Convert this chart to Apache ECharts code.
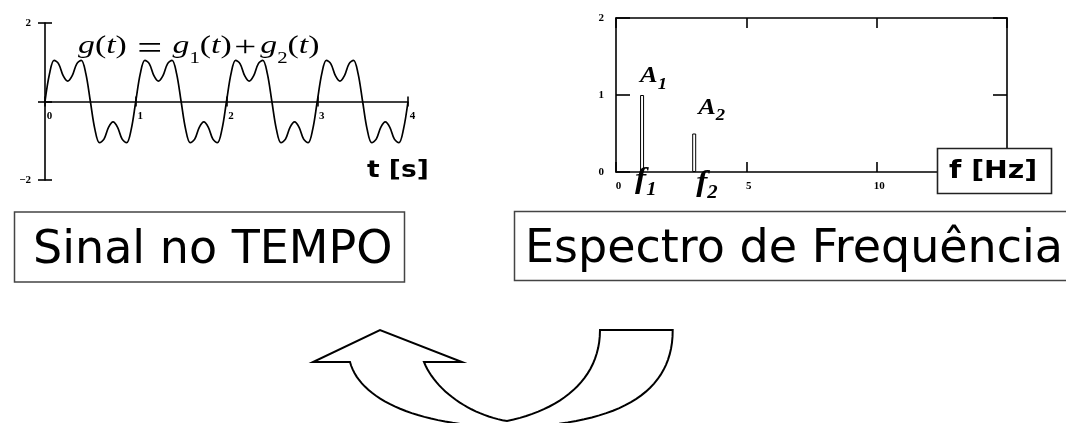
<!DOCTYPE html>
<html>
<head>
<meta charset="utf-8">
<script src="https://cdn.jsdelivr.net/npm/echarts@6/dist/echarts.min.js"></script>
<style>
  html, body { margin: 0; padding: 0; background: #fff; }
  #chart { width: 1066px; height: 423px; }
</style>
</head>
<body>
<div id="chart"></div>
<script>
// g(t) = g1(t) + g2(t), sampled every 0.05 s
const sampleTimes = [
  0, 0.05, 0.1, 0.15, 0.2, 0.25, 0.3, 0.35, 0.4, 0.45,
  0.5, 0.55, 0.6, 0.65, 0.7, 0.75, 0.8, 0.85, 0.9, 0.95,
  1, 1.05, 1.1, 1.15, 1.2, 1.25, 1.3, 1.35, 1.4, 1.45,
  1.5, 1.55, 1.6, 1.65, 1.7, 1.75, 1.8, 1.85, 1.9, 1.95,
  2, 2.05, 2.1, 2.15, 2.2, 2.25, 2.3, 2.35, 2.4, 2.45,
  2.5, 2.55, 2.6, 2.65, 2.7, 2.75, 2.8, 2.85, 2.9, 2.95,
  3, 3.05, 3.1, 3.15, 3.2, 3.25, 3.3, 3.35, 3.4, 3.45,
  3.5, 3.55, 3.6, 3.65, 3.7, 3.75, 3.8, 3.85, 3.9, 3.95,
  4
];
const signalValues = [
  0, 0.71, 1.05, 0.96, 0.66, 0.52, 0.66, 0.96, 1.05, 0.71,
  0, -0.71, -1.05, -0.96, -0.66, -0.52, -0.66, -0.96, -1.05, -0.71,
  0, 0.71, 1.05, 0.96, 0.66, 0.52, 0.66, 0.96, 1.05, 0.71,
  0, -0.71, -1.05, -0.96, -0.66, -0.52, -0.66, -0.96, -1.05, -0.71,
  0, 0.71, 1.05, 0.96, 0.66, 0.52, 0.66, 0.96, 1.05, 0.71,
  0, -0.71, -1.05, -0.96, -0.66, -0.52, -0.66, -0.96, -1.05, -0.71,
  0, 0.71, 1.05, 0.96, 0.66, 0.52, 0.66, 0.96, 1.05, 0.71,
  0, -0.71, -1.05, -0.96, -0.66, -0.52, -0.66, -0.96, -1.05, -0.71,
  0
];

// spectrum: one line per component
const componentIndex = ['1', '2'];
const frequencies = [1, 3];
const amplitudes = [1, 0.5];

// captions
const timeAxisName = 't [s]';
const freqAxisName = 'f [Hz]';
const timeCaption = 'Sinal no TEMPO';
const freqCaption = 'Espectro de Frequência';

const SERIF = '"Liberation Serif", "DejaVu Serif", serif';
const SANS = '"DejaVu Sans", Verdana, sans-serif';
const INK = '#000';

const tickFont = { fontFamily: SERIF, fontWeight: 'bold', fontSize: 11, color: INK };
const axisLineStyle = { color: INK, width: 1.6 };
const noSplit = { show: false };

const chart = echarts.init(document.getElementById('chart'), null, { renderer: 'canvas' });

chart.setOption({
  backgroundColor: '#fff',
  animation: false,
  grid: [
    // time plot area (-2 .. 2)
    { left: 45, right: 658, top: 23, bottom: 243 },
    // upper half of the time plot: its bottom edge is the t axis at g = 0
    { left: 45, right: 658, top: 23, bottom: 321.5 },
    // spectrum frame
    { left: 616, right: 59, top: 18, bottom: 251 }
  ],
  xAxis: [
    { type: 'value', gridIndex: 0, min: 0, max: 4, interval: 1, show: false, splitLine: noSplit },
    {
      type: 'value', gridIndex: 1, min: 0, max: 4, interval: 1, position: 'bottom',
      axisLine: { onZero: false, lineStyle: axisLineStyle },
      axisTick: { length: 5, lineStyle: axisLineStyle },
      axisLabel: Object.assign({ margin: 9, padding: [0, 0, 0, 9] }, tickFont),
      splitLine: noSplit
    },
    {
      type: 'value', gridIndex: 1, min: 0, max: 4, interval: 1, position: 'bottom',
      axisLine: { show: false, onZero: false },
      axisTick: { inside: true, length: 5, lineStyle: axisLineStyle },
      axisLabel: { show: false },
      splitLine: noSplit
    },
    {
      type: 'value', gridIndex: 2, min: 0, max: 15, interval: 5, position: 'bottom',
      axisLine: { onZero: false, lineStyle: axisLineStyle },
      axisTick: { inside: true, length: 10, lineStyle: axisLineStyle },
      axisLabel: Object.assign({ margin: 9, padding: [0, 0, 0, 5] }, tickFont),
      splitLine: noSplit
    },
    {
      type: 'value', gridIndex: 2, min: 0, max: 15, interval: 5, position: 'top',
      axisLine: { onZero: false, lineStyle: axisLineStyle },
      axisTick: { inside: true, length: 10, lineStyle: axisLineStyle },
      axisLabel: { show: false },
      splitLine: noSplit
    }
  ],
  yAxis: [
    {
      type: 'value', gridIndex: 0, min: -2, max: 2, interval: 2, position: 'left',
      axisLine: { onZero: false, lineStyle: axisLineStyle },
      axisTick: { length: 7, lineStyle: axisLineStyle },
      axisLabel: Object.assign({
        margin: 14, padding: [5, 0, 0, 0],
        formatter: v => v === 0 ? '' : (v < 0 ? '\u2212' + (-v) : String(v))
      }, tickFont),
      splitLine: noSplit
    },
    {
      type: 'value', gridIndex: 0, min: -2, max: 2, interval: 2, position: 'left',
      axisLine: { show: false, onZero: false },
      axisTick: { inside: true, length: 7, lineStyle: axisLineStyle },
      axisLabel: { show: false },
      splitLine: noSplit
    },
    { type: 'value', gridIndex: 1, min: 0, max: 2, show: false, splitLine: noSplit },
    {
      type: 'value', gridIndex: 2, min: 0, max: 2, interval: 1, position: 'left',
      axisLine: { onZero: false, lineStyle: axisLineStyle },
      axisTick: { inside: true, length: 14, lineStyle: axisLineStyle },
      axisLabel: Object.assign({ margin: 12, padding: [6, 0, 0, 0] }, tickFont),
      splitLine: noSplit
    },
    {
      type: 'value', gridIndex: 2, min: 0, max: 2, interval: 1, position: 'right',
      axisLine: { onZero: false, lineStyle: axisLineStyle },
      axisTick: { inside: true, length: 14, lineStyle: axisLineStyle },
      axisLabel: { show: false },
      splitLine: noSplit
    }
  ],
  series: [
    {
      name: 'g(t)', type: 'line', xAxisIndex: 0, yAxisIndex: 0,
      data: sampleTimes.map((t, i) => [t, signalValues[i]]),
      showSymbol: false, smooth: 0.35,
      lineStyle: { color: INK, width: 1.7 }
    },
    {
      name: 'A', type: 'bar', xAxisIndex: 3, yAxisIndex: 3,
      data: frequencies.map((f, i) => [f, amplitudes[i]]),
      barWidth: 4,
      itemStyle: { color: '#fff', borderColor: INK, borderWidth: 1 }
    }
  ]
});

// annotation placement relative to each spectral line (pixels)
const ampLabelShift = [[-2, -19], [4, -26]];
const freqLabelShift = [[-7, 9], [2, 12]];

const graphics = [];

frequencies.forEach((f, i) => {
  const top = chart.convertToPixel({ xAxisIndex: 3, yAxisIndex: 3 }, [f, amplitudes[i]]);
  const base = chart.convertToPixel({ xAxisIndex: 3, yAxisIndex: 3 }, [f, 0]);
  graphics.push({
    type: 'text', z: 100,
    x: top[0] + ampLabelShift[i][0], y: top[1] + ampLabelShift[i][1], scaleX: 1.1,
    style: {
      text: '{m|A}{s|' + componentIndex[i] + '}',
      align: 'left', verticalAlign: 'middle',
      rich: {
        m: { fontFamily: SERIF, fontStyle: 'italic', fontWeight: 'bold', fontSize: 24, color: INK, verticalAlign: 'top' },
        s: { fontFamily: SERIF, fontStyle: 'italic', fontWeight: 'bold', fontSize: 17, color: INK, verticalAlign: 'bottom', padding: [0, 0, -5, 0] }
      }
    }
  });
  graphics.push({
    type: 'text', z: 100,
    x: base[0] + freqLabelShift[i][0], y: base[1] + freqLabelShift[i][1], scaleX: 1.15,
    style: {
      text: '{m|f}{s|' + componentIndex[i] + '}',
      align: 'left', verticalAlign: 'middle',
      rich: {
        m: { fontFamily: SERIF, fontStyle: 'italic', fontWeight: 'bold', fontSize: 29, color: INK, verticalAlign: 'top' },
        s: { fontFamily: SERIF, fontStyle: 'italic', fontWeight: 'bold', fontSize: 18, color: INK, verticalAlign: 'bottom', padding: [0, 0, -4, 0] }
      }
    }
  });
});

// formula over the time plot
graphics.push({
  type: 'text', z: 100, x: 78, y: 50, scaleX: 1.3,
  style: {
    text: '{i|g}{r|(}{i|t}{r|)}{eq|=}{i|g}{s|1}{r|(}{i|t}{r|)}{pl|+}{i|g}{s|2}{r|(}{i|t}{r|)}',
    align: 'left', verticalAlign: 'middle',
    rich: {
      i: { fontFamily: SERIF, fontStyle: 'italic', fontSize: 26, color: INK, verticalAlign: 'top' },
      r: { fontFamily: SERIF, fontSize: 26, color: INK, verticalAlign: 'top' },
      eq: { fontFamily: SERIF, fontSize: 34, color: INK, verticalAlign: 'top', padding: [0, 8, 0, 8] },
      pl: { fontFamily: SERIF, fontSize: 30, color: INK, verticalAlign: 'top', padding: [0, 3, 0, 2] },
      s: { fontFamily: SERIF, fontSize: 16, color: INK, verticalAlign: 'bottom', padding: [0, 0, 0, 0] }
    }
  }
});

// axis names
graphics.push({
  type: 'text', z: 100, x: 367, y: 171, scaleX: 1.15,
  style: { text: timeAxisName, font: 'bold 23px ' + SANS, fill: INK, align: 'left', verticalAlign: 'middle' }
});
graphics.push({
  type: 'rect', z: 100,
  shape: { x: 937.5, y: 148.5, width: 114, height: 45 },
  style: { fill: '#fff', stroke: '#222', lineWidth: 1.6 }
});
graphics.push({
  type: 'text', z: 101, x: 949, y: 172, scaleX: 1.18,
  style: { text: freqAxisName, font: 'bold 24px ' + SANS, fill: INK, align: 'left', verticalAlign: 'middle' }
});

// caption boxes
graphics.push({
  type: 'rect', z: 100,
  shape: { x: 14.5, y: 212, width: 390, height: 70 },
  style: { fill: '#fff', stroke: '#444', lineWidth: 1.5 }
});
graphics.push({
  type: 'text', z: 101, x: 33, y: 251,
  style: { text: timeCaption, font: '46px ' + SANS, fill: INK, align: 'left', verticalAlign: 'middle' }
});
graphics.push({
  type: 'rect', z: 100,
  shape: { x: 514.5, y: 211.5, width: 600, height: 69 },
  style: { fill: '#fff', stroke: '#444', lineWidth: 1.5 }
});
graphics.push({
  type: 'text', z: 101, x: 525, y: 250,
  style: { text: freqCaption, font: '46px ' + SANS, fill: INK, align: 'left', verticalAlign: 'middle' }
});

// U-turn arrow linking the two domains, outlined from cubic segments
function cubicPoints(p0, p1, p2, p3, n) {
  const pts = [];
  for (let k = 1; k <= n; k++) {
    const s = k / n, u = 1 - s;
    const a = u * u * u, b = 3 * u * u * s, c = 3 * u * s * s, d = s * s * s;
    pts.push([a * p0[0] + b * p1[0] + c * p2[0] + d * p3[0],
              a * p0[1] + b * p1[1] + c * p2[1] + d * p3[1]]);
  }
  return pts;
}
const arrowOutline = [[600, 330], [672.7, 330]]
  .concat(cubicPoints([672.7, 330], [673, 395], [615, 425], [511, 427], 30))
  .concat(cubicPoints([511, 427], [420, 427], [360, 400], [350, 362], 30))
  .concat([[313, 362], [380, 330], [462, 362], [424, 362]])
  .concat(cubicPoints([424, 362], [435, 390], [470, 415], [507, 421], 24))
  .concat(cubicPoints([507, 421], [560, 410], [600, 380], [600, 330], 24));

graphics.push({
  type: 'polygon', z: 100,
  shape: { points: arrowOutline },
  style: { fill: '#fff', stroke: INK, lineWidth: 2, lineJoin: 'miter' }
});

chart.setOption({ graphic: graphics });
</script>
</body>
</html>
